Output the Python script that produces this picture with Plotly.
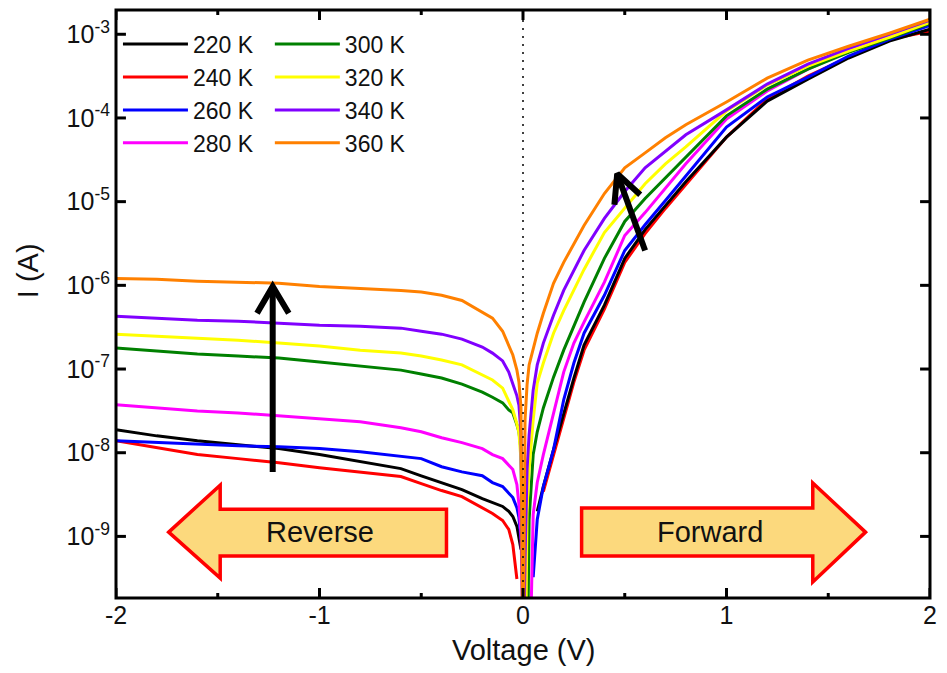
import plotly.graph_objects as go

# Bias voltage grid (V), shared by all temperature sweeps
voltage = [-2.0, -1.8, -1.6, -1.4, -1.2, -1.0, -0.8, -0.6, -0.5, -0.4, -0.3, -0.2, -0.15, -0.1,
           -0.07, -0.05, -0.03, -0.02, -0.01, 0.0, 0.01, 0.02, 0.03, 0.05, 0.07, 0.1, 0.15, 0.2,
           0.25, 0.3, 0.4, 0.5, 0.6, 0.7, 0.8, 1.0, 1.2, 1.4, 1.6, 1.8, 2.0]

# Measured |I| (A) per temperature; None = no measurable point near the zero crossing
current_220 = [1.88e-8, 1.59e-8, 1.39e-8, 1.25e-8, 1.12e-8, 9.5e-9, 7.8e-9, 6.46e-9, 5.3e-9, 4.4e-9,
               3.63e-9, 2.83e-9, 2.54e-9, 2.28e-9, 1.99e-9, 1.73e-9, 1.32e-9, 9.2e-10, 7.0e-10,
               None, None, None, None, None, 1.99e-9, 3.94e-9, 1.09e-8, 2.99e-8, 7.8e-8, 1.93e-7,
               5.8e-7, 2.1e-6, 4.64e-6, 8.96e-6, 1.73e-5, 5.9e-5, 1.59e-4, 2.91e-4, 5.2e-4, 8.3e-4,
               1.15e-3]
current_240 = [1.39e-8, 1.15e-8, 9.5e-9, 8.5e-9, 7.6e-9, 6.6e-9, 5.9e-9, 5.2e-9, 4.28e-9, 3.53e-9,
               2.99e-9, 2.21e-9, 1.88e-9, 1.55e-9, 1.21e-9, 8.0e-10, 3.1e-10, None, None,
               None, None, None, None, None, None, 3.43e-9, 9.5e-9, 2.61e-8, 7.0e-8, 1.68e-7,
               5.2e-7, 1.88e-6, 4.16e-6, 8.3e-6, 1.59e-5, 5.9e-5, 1.68e-4, 3.16e-4, 5.3e-4, 8.7e-4,
               1.09e-3]
current_260 = [1.39e-8, 1.32e-8, 1.25e-8, 1.21e-8, 1.18e-8, 1.12e-8, 1.03e-8, 9.1e-9, 8.5e-9, 6.8e-9,
               5.9e-9, 5.3e-9, 4.4e-9, 3.94e-9, 3.34e-9, 2.91e-9, 2.21e-9, 1.68e-9, 9.2e-10,
               None, None, None, None, 3.25e-10, 1.59e-9, 3.94e-9, 1.09e-8, 4.28e-8, 1.18e-7,
               2.68e-7, 7.6e-7, 2.61e-6, 5.3e-6, 1.03e-5, 2.04e-5, 7.8e-5, 1.78e-4, 3.08e-4, 5.5e-4,
               8.7e-4, 1.28e-3]
current_280 = [3.73e-8, 3.43e-8, 3.16e-8, 2.99e-8, 2.75e-8, 2.54e-8, 2.34e-8, 1.99e-8, 1.78e-8, 1.51e-8,
               1.32e-8, 1.12e-8, 9.5e-9, 8.5e-9, 7.0e-9, 6.3e-9, 4.16e-9, 2.4e-9, 1.06e-9,
               1e-11, 1e-11, 1e-11, 1e-11, 1.83e-9, 4.4e-9, 9.5e-9, 2.99e-8, 9.2e-8, 2.04e-7,
               3.63e-7, 1.09e-6, 3.94e-6, 7.4e-6, 1.47e-5, 2.83e-5, 9.7e-5, 2.1e-4, 3.83e-4, 6.3e-4,
               1.0e-3, 1.47e-3]
current_300 = [1.78e-7, 1.64e-7, 1.51e-7, 1.43e-7, 1.35e-7, 1.21e-7, 1.09e-7, 9.7e-8, 8.7e-8, 7.8e-8,
               6.6e-8, 5.3e-8, 4.6e-8, 3.94e-8, 3.25e-8, 2.99e-8, 2.15e-8, 1.78e-8, 1.09e-8,
               1e-11, 1e-11, 1e-11, 1.59e-9, 9.5e-9, 1.78e-8, 3.43e-8, 8.0e-8, 1.68e-7, 3.34e-7,
               6.3e-7, 2.1e-6, 5.8e-6, 1.09e-5, 1.93e-5, 3.43e-5, 1.06e-4, 2.21e-4, 3.83e-4, 6.1e-4,
               8.96e-4, 1.35e-3]
current_320 = [2.61e-7, 2.47e-7, 2.34e-7, 2.21e-7, 2.04e-7, 1.88e-7, 1.68e-7, 1.55e-7, 1.43e-7, 1.28e-7,
               1.12e-7, 8.5e-8, 7.4e-8, 5.9e-8, 4.05e-8, 3.25e-8, 2.21e-8, 1.73e-8, 8.3e-9,
               1e-11, 1e-11, 2.1e-9, 6.3e-9, 2.47e-8, 6.8e-8, 1.18e-7, 2.68e-7, 5.0e-7, 9.0e-7,
               1.55e-6, 4.28e-6, 8.5e-6, 1.64e-5, 2.83e-5, 4.5e-5, 1.21e-4, 2.47e-4, 4.16e-4, 6.3e-4,
               9.2e-4, 1.39e-3]
current_340 = [4.28e-7, 4.05e-7, 3.83e-7, 3.73e-7, 3.53e-7, 3.34e-7, 3.25e-7, 3.08e-7, 2.83e-7, 2.61e-7,
               2.28e-7, 1.83e-7, 1.55e-7, 1.25e-7, 9.2e-8, 6.8e-8, 4.78e-8, 3.7e-8, 1.73e-8,
               1e-11, 5.3e-10, 6.3e-9, 1.64e-8, 5.6e-8, 1.12e-7, 2.04e-7, 4.4e-7, 8.7e-7, 1.51e-6,
               2.61e-6, 6.3e-6, 1.32e-5, 2.54e-5, 4.05e-5, 6.3e-5, 1.25e-4, 2.54e-4, 4.4e-4, 6.8e-4,
               1.0e-3, 1.47e-3]
current_360 = [1.21e-6, 1.18e-6, 1.12e-6, 1.09e-6, 1.06e-6, 9.7e-7, 9.2e-7, 8.7e-7, 8.3e-7, 7.6e-7,
               6.6e-7, 4.78e-7, 4.05e-7, 2.83e-7, 1.93e-7, 1.47e-7, 9.7e-8, 7.0e-8, 3.5e-8,
               1e-11, 2.47e-8, 6.5e-8, 1.12e-7, 1.78e-7, 2.68e-7, 4.64e-7, 1.06e-6, 1.88e-6, 3.16e-6,
               5.2e-6, 1.25e-5, 2.54e-5, 3.83e-5, 5.8e-5, 8.3e-5, 1.55e-4, 2.99e-4, 4.9e-4, 7.2e-4,
               1.03e-3, 1.51e-3]

labels = ["220 K", "240 K", "260 K", "280 K", "300 K", "320 K", "340 K", "360 K"]
line_colors = ["#000000", "#ff0000", "#0000ff", "#ff00ff", "#008000", "#ffff00", "#8000ff", "#ff8000"]

# Axis ranges and ticks
x_range = [-2, 2]
y_range_log = [-9.736, -2.71]
x_ticks = [-2, -1, 0, 1, 2]
x_minor_ticks = [-1.5, -0.5, 0.5, 1.5]
y_tick_vals = [1e-9, 1e-8, 1e-7, 1e-6, 1e-5, 1e-4, 1e-3]
y_tick_text = ["10<sup>-9</sup>", "10<sup>-8</sup>", "10<sup>-7</sup>", "10<sup>-6</sup>",
               "10<sup>-5</sup>", "10<sup>-4</sup>", "10<sup>-3</sup>"]

# Temperature-trend arrows: (V, I) of tail, tip and the two barbs of the head
reverse_arrow_v = [-1.23, -1.23]
reverse_arrow_i = [5.9e-9, 9.7e-7]
reverse_head_v = [-1.307, -1.23, -1.151]
reverse_head_i = [4.64e-7, 9.7e-7, 4.64e-7]
forward_arrow_v = [0.60, 0.463]
forward_arrow_i = [2.61e-6, 2.15e-5]
forward_head_v = [0.576, 0.463, 0.449]
forward_head_i = [1.21e-5, 2.15e-5, 9.2e-6]

currents = [current_220, current_240, current_260, current_280,
            current_300, current_320, current_340, current_360]

FONT = "Arial, Liberation Sans, sans-serif"
TEXT = "#111111"
WIDTH, HEIGHT = 947, 673
MARGIN = dict(l=116, r=11, t=10, b=75)
PLOT_W = WIDTH - MARGIN["l"] - MARGIN["r"]
PLOT_H = HEIGHT - MARGIN["t"] - MARGIN["b"]

fig = go.Figure()

# 240 K first so the 220 K trace sits on top of it
draw_order = [1, 0, 2, 3, 4, 5, 6, 7]
for k in draw_order:
    fig.add_trace(go.Scatter(
        x=voltage, y=currents[k], mode="lines", name=labels[k],
        line=dict(color=line_colors[k], width=3),
        legend="legend" if k < 4 else "legend2",
        legendrank=k + 1,
        connectgaps=False,
    ))

for xs, ys in [(reverse_arrow_v, reverse_arrow_i), (reverse_head_v, reverse_head_i),
               (forward_arrow_v, forward_arrow_i), (forward_head_v, forward_head_i)]:
    fig.add_trace(go.Scatter(x=xs, y=ys, mode="lines", showlegend=False, hoverinfo="skip",
                             line=dict(color="black", width=6)))

# Inward tick marks on all four sides, one short segment per tick, sized in pixels
decades_per_px = (y_range_log[1] - y_range_log[0]) / PLOT_H
volts_per_px = (x_range[1] - x_range[0]) / PLOT_W
y_lo, y_hi = 10 ** y_range_log[0], 10 ** y_range_log[1]
TICK_LINE = dict(color="black", width=3)
for ticks, length in [(x_ticks, 10), (x_minor_ticks, 5)]:
    step = 10 ** (length * decades_per_px)
    for v in ticks:
        for y_pair in ([y_lo, y_lo * step], [y_hi, y_hi / step]):
            fig.add_trace(go.Scatter(x=[v, v], y=y_pair, mode="lines", showlegend=False,
                                     hoverinfo="skip", line=TICK_LINE, cliponaxis=False))
dx = 10 * volts_per_px
for v in y_tick_vals:
    for x_pair in ([x_range[0], x_range[0] + dx], [x_range[1], x_range[1] - dx]):
        fig.add_trace(go.Scatter(x=x_pair, y=[v, v], mode="lines", showlegend=False,
                                 hoverinfo="skip", line=TICK_LINE, cliponaxis=False))

# Block arrows marking the bias direction
ARROW_FILL = "#fcd97d"
ARROW_EDGE = "#ff0000"
fig.add_shape(type="path", xref="x", yref="paper",
              path="M -1.741,0.112 L -1.488,0.192 L -1.488,0.151 L -0.376,0.151 "
                   "L -0.376,0.0714 L -1.488,0.0714 L -1.488,0.034 Z",
              fillcolor=ARROW_FILL, line=dict(color=ARROW_EDGE, width=3.5), layer="above")
fig.add_shape(type="path", xref="x", yref="paper",
              path="M 1.683,0.112 L 1.424,0.1956 L 1.424,0.153 L 0.288,0.153 "
                   "L 0.288,0.0714 L 1.424,0.0714 L 1.424,0.0272 Z",
              fillcolor=ARROW_FILL, line=dict(color=ARROW_EDGE, width=3.5), layer="above")
fig.add_annotation(x=-1.0, y=0.112, xref="x", yref="paper", text="Reverse", showarrow=False,
                   xanchor="center", yanchor="middle",
                   font=dict(family=FONT, size=29, color=TEXT))
fig.add_annotation(x=0.917, y=0.112, xref="x", yref="paper", text="Forward", showarrow=False,
                   xanchor="center", yanchor="middle",
                   font=dict(family=FONT, size=29, color=TEXT))

# Zero-bias guide
fig.add_shape(type="line", xref="x", yref="paper", x0=0, x1=0, y0=0, y1=1,
              line=dict(color="black", width=1.5, dash="2px,6px"), layer="above")

# Plot frame
fig.add_shape(type="rect", xref="paper", yref="paper", x0=0, x1=1, y0=0, y1=1,
              line=dict(color="black", width=3), fillcolor="rgba(0,0,0,0)", layer="above")

# Axis titles placed as free text
fig.add_annotation(x=-0.108, y=0.556, xref="paper", yref="paper", text="I (A)", showarrow=False,
                   textangle=-90, xanchor="center", yanchor="middle",
                   font=dict(family=FONT, size=29, color=TEXT))
fig.add_annotation(x=0.5, y=-0.089, xref="paper", yref="paper", text="Voltage (V)",
                   showarrow=False, xanchor="center", yanchor="middle",
                   font=dict(family=FONT, size=29, color=TEXT))

axis_common = dict(showgrid=False, zeroline=False, showline=False, ticks="",
                   tickfont=dict(family=FONT, size=25, color=TEXT))

fig.update_layout(
    width=WIDTH, height=HEIGHT,
    margin=MARGIN,
    paper_bgcolor="white", plot_bgcolor="white",
    font=dict(family=FONT),
    xaxis=dict(range=x_range, tickvals=x_ticks, ticktext=[str(v) for v in x_ticks],
               **axis_common),
    yaxis=dict(type="log", range=y_range_log, tickvals=y_tick_vals,
               ticktext=[t + "\u2009" for t in y_tick_text], **axis_common),
    showlegend=True,
)

legend_common = dict(xanchor="left", yanchor="top", bgcolor="rgba(0,0,0,0)", borderwidth=0,
                     font=dict(family=FONT, size=23, color=TEXT), itemwidth=65,
                     traceorder="normal", tracegroupgap=0)
fig.update_layout(
    legend=dict(x=0.0024, y=0.9785, **legend_common),
    legend2=dict(x=0.189, y=0.9785, **legend_common),
)

fig.write_html("out.html")
